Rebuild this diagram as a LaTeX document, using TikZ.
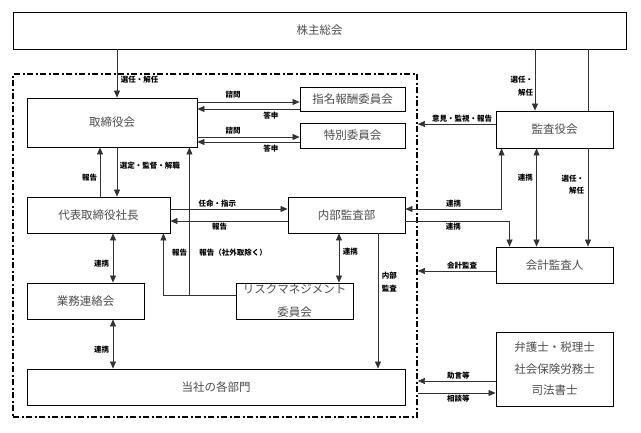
\documentclass[tikz,border=0pt]{standalone}
\usepackage{fontspec}
\setmainfont{Noto Sans CJK JP}
\usetikzlibrary{arrows.meta,positioning}

\begin{document}
\begin{tikzpicture}[x=1pt,y=-1pt,
  box/.style={draw,line width=0.9pt,rectangle,inner sep=0pt,text=black!70,
    font=\fontsize{11.5}{14}\selectfont},
  lbl/.style={inner sep=1.5pt,text=black,font=\fontsize{7.5}{12.5}\selectfont\bfseries},
  arr/.style={-{Triangle[length=7pt,width=6pt]},line width=0.6pt,draw=black!80},
  darr/.style={{Triangle[length=7pt,width=6pt]}-{Triangle[length=7pt,width=6pt]},line width=0.6pt,draw=black!80},
  grp/.style={draw,line width=1.8pt,dash pattern=on 6pt off 2.5pt on 2pt off 2.5pt}]

  \useasboundingbox (0,0) rectangle (641,432);

  \node[grp,minimum width=404pt,minimum height=343pt] (shanai) at (215,245.5) {};

  \node[box,minimum width=613pt,minimum height=37pt] (kabu) at (319.5,30.5) {株主総会};
  \node[box,minimum width=170pt,minimum height=49pt] (torishimari) at (112,122.5) {取締役会};
  \node[box,minimum width=105pt,minimum height=24pt] (shimei) at (352.5,99) {指名報酬委員会};
  \node[box,minimum width=105pt,minimum height=25pt] (tokubetsu) at (352.5,135.5) {特別委員会};
  \node[box,minimum width=117pt,minimum height=37pt] (kansayaku) at (554.5,129.5) {監査役会};
  \node[box,minimum width=143pt,minimum height=36pt] (daihyo) at (98.5,215) {代表取締役社長};
  \node[box,minimum width=117pt,minimum height=36pt] (naibu) at (346.5,215) {内部監査部};
  \node[box,minimum width=117pt,minimum height=36pt] (kaikei) at (554.5,265) {会計監査人};
  \node[box,minimum width=117pt,minimum height=36pt] (gyomu) at (85.5,301) {業務連絡会};
  \node[box,minimum width=117pt,minimum height=36pt,align=center,
    font=\fontsize{11.5}{23}\selectfont] (risk) at (294.5,301) {リスクマネジメント\\委員会};
  \node[box,minimum width=378pt,minimum height=36pt] (kakubumon) at (216,387) {当社の各部門};
  \node[box,minimum width=117pt,minimum height=74pt,align=center,
    font=\fontsize{11.5}{21.5}\selectfont] (bengoshi) at (554.5,369) {弁護士・税理士\\社会保険労務士\\司法書士};

  % shareholders
  \draw[arr] ([xshift=5pt]torishimari.north |- kabu.south) -- ([xshift=5pt]torishimari.north)
    node[lbl,pos=0.63,right=2pt] {選任・解任};
  \draw[arr] ([xshift=-19.5pt]kansayaku.north |- kabu.south) -- ([xshift=-19.5pt]kansayaku.north)
    node[lbl,pos=0.6,left,align=right] {選任・\\解任};
  \draw[line width=0.6pt,draw=black!80] ([xshift=33.5pt]kansayaku.north |- kabu.south) -- ([xshift=33.5pt]kansayaku.north);
  \draw[arr] ([xshift=33.5pt]kansayaku.south) -- ([xshift=33.5pt]kansayaku.south |- kaikei.north)
    node[lbl,pos=0.37,left=2pt,align=right] {選任・\\解任};

  % committees
  \draw[arr] ([yshift=-3pt]shimei.west -| torishimari.east) -- ([yshift=-3pt]shimei.west)
    node[lbl,pos=0.35,above=2pt] {諮問};
  \draw[arr] ([yshift=-10pt]shimei.west) -- ([yshift=-10pt]shimei.west -| torishimari.east)
    node[lbl,pos=0.28,below=1pt] {答申};
  \draw[arr] ([yshift=-1.5pt]tokubetsu.west -| torishimari.east) -- ([yshift=-1.5pt]tokubetsu.west)
    node[lbl,pos=0.35,above=1pt] {諮問};
  \draw[arr] ([yshift=-6.5pt]tokubetsu.west) -- ([yshift=-6.5pt]tokubetsu.west -| torishimari.east)
    node[lbl,pos=0.28,below=1pt] {答申};

  % board and president
  \draw[arr] ([xshift=18.5pt]daihyo.north |- torishimari.south) -- ([xshift=18.5pt]daihyo.north)
    node[lbl,pos=0.38,right=1pt] {選定・監督・解職};
  \draw[arr] ([xshift=1.5pt]daihyo.north) -- ([xshift=1.5pt]daihyo.north |- torishimari.south)
    node[lbl,pos=0.38,left=1pt] {報告};
  \draw[arr] ([yshift=6pt]daihyo.east) -- ([yshift=6pt]daihyo.east -| naibu.west)
    node[lbl,pos=0.4,above] {任命・指示};
  \draw[arr] ([yshift=-6pt]naibu.west) -- ([yshift=-6pt]naibu.west -| daihyo.east)
    node[lbl,pos=0.58,below] {報告};

  % risk management reports
  \draw[arr] ([yshift=6pt]risk.west) -| ([xshift=-7pt]daihyo.south east);
  \draw[arr] ([yshift=6pt]risk.west) -| ([xshift=-8pt]torishimari.south east)
    node[lbl,pos=0.645,left=0.5pt] {報告}
    node[lbl,pos=0.645,right=8pt] {報告（社外取除く）};
  \draw[darr] ([xshift=-7.5pt]naibu.south) -- ([xshift=-7.5pt]naibu.south |- risk.north)
    node[lbl,pos=0.38,right=2pt] {連携};
  \draw[arr] ([xshift=31.5pt]naibu.south) -- ([xshift=31.5pt]naibu.south |- kakubumon.north)
    node[lbl,pos=0.36,right=2pt,align=left] {内部\\監査};

  % left column
  \draw[darr] ([xshift=14.5pt]daihyo.south) -- ([xshift=14.5pt]daihyo.south |- gyomu.north)
    node[lbl,pos=0.62,left=2pt] {連携};
  \draw[darr] ([xshift=27.5pt]gyomu.south) -- ([xshift=27.5pt]gyomu.south |- kakubumon.north)
    node[lbl,pos=0.62,left=2pt] {連携};

  % right side
  \draw[arr] ([yshift=5.5pt]kansayaku.west) -- ([yshift=5.5pt]kansayaku.west -| shanai.east)
    node[lbl,pos=0.43,above] {意見・監視・報告};
  \draw[darr] ([xshift=6pt]kansayaku.south west) |- ([yshift=6pt]naibu.east)
    node[lbl,pos=0.75,above] {連携};
  \draw[arr] ([yshift=-6pt]naibu.east) -| ([xshift=14pt]kaikei.north west)
    node[lbl,pos=0.23,below] {連携};
  \draw[darr] ([xshift=41pt]kansayaku.south west) -- ([xshift=41pt]kaikei.north west)
    node[lbl,pos=0.3,left=2pt] {連携};
  \draw[arr] ([yshift=-6pt]kaikei.west) -- ([yshift=-6pt]kaikei.west -| shanai.east)
    node[lbl,pos=0.43,above] {会計監査};
  \draw[arr] ([yshift=-12pt]bengoshi.west) -- ([yshift=-12pt]bengoshi.west -| shanai.east)
    node[lbl,pos=0.48,above] {助言等};
  \draw[arr] ([yshift=-24pt]bengoshi.west -| shanai.east) -- ([yshift=-24pt]bengoshi.west)
    node[lbl,pos=0.52,below] {相談等};

\end{tikzpicture}
\end{document}
